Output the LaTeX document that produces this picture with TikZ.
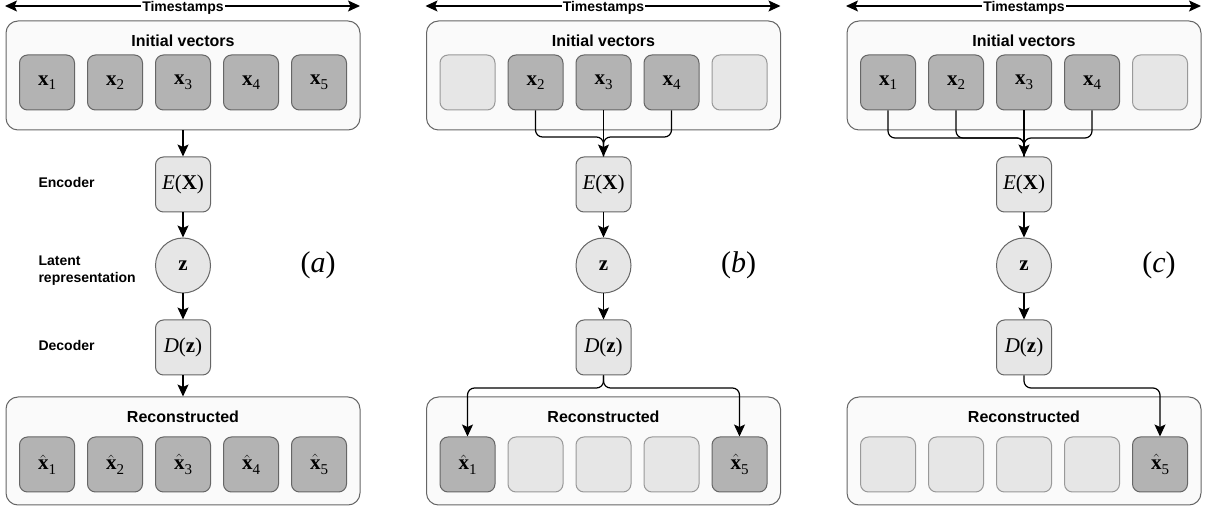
\documentclass[tikz,border=0pt]{standalone}
\usepackage{fontspec}
\setmainfont{Liberation Sans}
\newfontfamily\tms{Liberation Serif}
\usetikzlibrary{arrows.meta}
\definecolor{darkfill}{HTML}{B3B3B3}
\definecolor{lightfill}{HTML}{E6E6E6}
\definecolor{framefill}{HTML}{FAFAFA}
\definecolor{bordd}{HTML}{666666}
\definecolor{bordl}{HTML}{999999}
\newcommand{\bx}{\hbox{\tms\bfseries x}}
\newcommand{\vx}[1]{\bx\raisebox{-0.22em}{\tms\fontsize{15}{15}\selectfont #1}}
\newcommand{\vhx}[1]{$\hat{\bx}$\raisebox{-0.22em}{\tms\fontsize{15}{15}\selectfont #1}}
\begin{document}
\begin{tikzpicture}[x=1pt,y=-1pt,
  vec/.style={draw=bordd, fill=darkfill, rounded corners=8pt, minimum width=55pt, minimum height=55pt, line width=1pt, inner sep=0pt, font=\fontsize{21}{23}\selectfont},
  emp/.style={vec, draw=bordl, fill=lightfill},
  proc/.style={vec, fill=lightfill},
  lat/.style={circle, draw=bordd, fill=lightfill, minimum size=55pt, inner sep=0pt, line width=1pt, font=\fontsize{21}{23}\selectfont},
  frm/.style={draw=bordd, fill=framefill, rounded corners=12pt, minimum width=354pt, minimum height=109pt, line width=1pt, inner sep=0pt},
  ttl/.style={font=\fontsize{16}{18}\selectfont\bfseries},
  side/.style={font=\fontsize{14}{17}\selectfont\bfseries, align=left, anchor=west},
  tag/.style={font=\tms\fontsize{30}{32}\selectfont},
  conn/.style={draw=black, line width=1.2pt, -{Stealth[length=12pt,width=11pt,inset=2.5pt]}},
  lnk/.style={draw=black, line width=1.2pt, rounded corners=7pt},
  tarr/.style={draw=black, line width=1.2pt, {Stealth[length=12pt,width=11pt,inset=2.5pt]}-{Stealth[length=12pt,width=11pt,inset=2.5pt]}}
]
\useasboundingbox (0,0) rectangle (1211,510);

\foreach \p/\cx/\lab in {a/183/a, b/603.5/b, c/1024/c} {
  \coordinate (\p tl) at (\cx-178,6);
  \coordinate (\p tr) at (\cx+177,6);
  \draw[tarr] (\p tl) -- (\p tr);
  \node[fill=white, inner sep=1pt, font=\fontsize{14}{16}\selectfont\bfseries] (\p ts) at (\cx,7.5) {Timestamps};
  \node[frm] (\p fr) at (\cx,75.5) {};
  \node[ttl] (\p frt) at (\cx,41) {Initial vectors};
  \node[frm, minimum height=108pt] (\p rc) at (\cx,451) {};
  \node[ttl] (\p rct) at (\cx,417) {Reconstructed};
  \node[proc] (\p E) at (\cx,184.5) {\tms\textit{E}(\textbf{X})};
  \node[lat] (\p z) at (\cx,265.5) {\tms\bfseries z};
  \node[proc] (\p D) at (\cx,347.5) {\tms\textit{D}(\textbf{z})};
  \draw[conn] (\p E) -- (\p z);
  \draw[conn] (\p z) -- (\p D);
  \node[tag] (\p tag) at (\cx+135,265) {(\textit{\lab})};
}

% ---------- panel (a)
\foreach \i in {1,...,5} {
  \node[vec] (ain\i) at (183+68*\i-204,82.5) {\vx{\i}};
  \node[vec] (aout\i) at (183+68*\i-204,464.5) {\vhx{\i}};
}
\draw[conn] (afr.south) -- (aE.north);
\draw[conn] (aD.south) -- (arc.north);
\node[side] (lenc) at (35,182) {Encoder};
\node[side] (llat) at (35,271) {Latent\\representation};
\node[side] (ldec) at (35,345) {Decoder};

% ---------- panel (b)
\node[emp] (bin1) at (603.5-136,82.5) {};
\node[vec] (bin2) at (603.5-68,82.5) {\vx{2}};
\node[vec] (bin3) at (603.5,82.5) {\vx{3}};
\node[vec] (bin4) at (603.5+68,82.5) {\vx{4}};
\node[emp] (bin5) at (603.5+136,82.5) {};
\node[vec] (bout1) at (603.5-136,464.5) {\vhx{1}};
\node[emp] (bout2) at (603.5-68,464.5) {};
\node[emp] (bout3) at (603.5,464.5) {};
\node[emp] (bout4) at (603.5+68,464.5) {};
\node[vec] (bout5) at (603.5+136,464.5) {\vhx{5}};
\coordinate (bj) at (603.5,137);
\draw[lnk] (bin2.south) |- (bj) -- (bE.north);
\draw[lnk] (bin4.south) |- (bj) -- (bE.north);
\draw[conn] (bin3.south) -- (bE.north);
\coordinate (bdj) at (603.5,388);
\draw[conn, rounded corners=7pt] (bD.south) -- (bdj) -| (bout1.north);
\draw[conn, rounded corners=7pt] (bD.south) -- (bdj) -| (bout5.north);

% ---------- panel (c)
\node[vec] (cin1) at (1024-136,82.5) {\vx{1}};
\node[vec] (cin2) at (1024-68,82.5) {\vx{2}};
\node[vec] (cin3) at (1024,82.5) {\vx{3}};
\node[vec] (cin4) at (1024+68,82.5) {\vx{4}};
\node[emp] (cin5) at (1024+136,82.5) {};
\node[emp] (cout1) at (1024-136,464.5) {};
\node[emp] (cout2) at (1024-68,464.5) {};
\node[emp] (cout3) at (1024,464.5) {};
\node[emp] (cout4) at (1024+68,464.5) {};
\node[vec] (cout5) at (1024+136,464.5) {\vhx{5}};
\coordinate (cj) at (1024,138);
\draw[lnk] (cin1.south) |- (cj) -- (cE.north);
\draw[lnk] (cin2.south) |- (cj) -- (cE.north);
\draw[lnk] (cin4.south) |- (cj) -- (cE.north);
\draw[conn] (cin3.south) -- (cE.north);
\coordinate (cdj) at (1024,388);
\draw[conn, rounded corners=7pt] (cD.south) -- (cdj) -| (cout5.north);
\end{tikzpicture}
\end{document}
